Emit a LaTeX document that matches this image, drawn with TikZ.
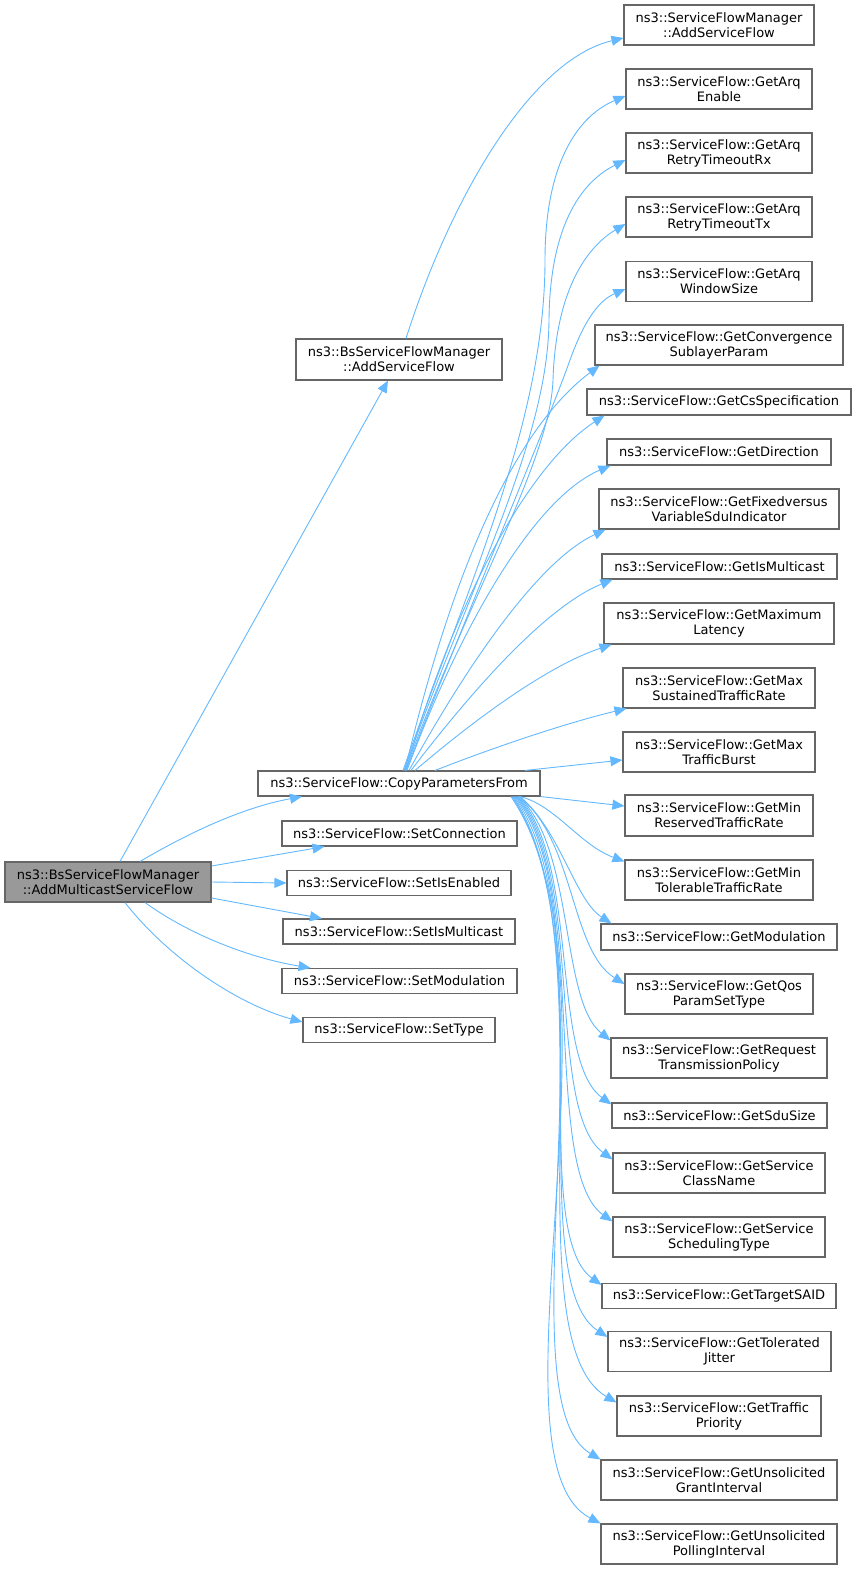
\documentclass[tikz,border=0pt]{standalone}
\usepackage{fontspec}
\setmainfont{DejaVu Sans}
\usetikzlibrary{arrows.meta}
\definecolor{edgeblue}{HTML}{63B8FF}
\definecolor{boxgray}{HTML}{666666}
\definecolor{rootfill}{HTML}{999999}
\tikzset{
  box/.style={draw=boxgray, line width=1.1pt, fill=white, inner sep=0pt, align=center,
    font=\fontsize{13}{15}\selectfont},
  rootbox/.style={box, fill=rootfill},
  edge/.style={draw=edgeblue, line width=0.9pt, -{Triangle[length=12pt,width=10pt]}},
}
\begin{document}
\begin{tikzpicture}[x=1pt,y=-1pt]
\useasboundingbox (0,0) rectangle (856,1569);
% left
\node[rootbox, minimum width=206pt, minimum height=40pt] (root) at (108,882) {ns3::BsServiceFlowManager\\::AddMulticastServiceFlow};
% middle
\node[box, minimum width=206pt, minimum height=41pt] (bsadd) at (399,359.5) {ns3::BsServiceFlowManager\\::AddServiceFlow};
\node[box, minimum width=282pt, minimum height=25pt] (cpf) at (399,783.5) {ns3::ServiceFlow::CopyParametersFrom};
\node[box, minimum width=235pt, minimum height=25pt] (setconn) at (399.5,833.5) {ns3::ServiceFlow::SetConnection};
\node[box, minimum width=224pt, minimum height=25pt] (setisen) at (399,883) {ns3::ServiceFlow::SetIsEnabled};
\node[box, minimum width=232pt, minimum height=25pt] (setismc) at (399,931.5) {ns3::ServiceFlow::SetIsMulticast};
\node[box, minimum width=235pt, minimum height=25pt] (setmod) at (399.5,981) {ns3::ServiceFlow::SetModulation};
\node[box, minimum width=192pt, minimum height=25pt] (settype) at (399,1030) {ns3::ServiceFlow::SetType};
% right
\node[box, minimum width=190pt, minimum height=40pt] (sfmadd) at (719,25) {ns3::ServiceFlowManager\\::AddServiceFlow};
\node[box, minimum width=186pt, minimum height=40pt] (arqen) at (719,89) {ns3::ServiceFlow::GetArq\\Enable};
\node[box, minimum width=186pt, minimum height=40pt] (arqrx) at (719,153) {ns3::ServiceFlow::GetArq\\RetryTimeoutRx};
\node[box, minimum width=186pt, minimum height=40pt] (arqtx) at (719,217) {ns3::ServiceFlow::GetArq\\RetryTimeoutTx};
\node[box, minimum width=186pt, minimum height=40pt] (arqws) at (719,281.5) {ns3::ServiceFlow::GetArq\\WindowSize};
\node[box, minimum width=248pt, minimum height=40pt] (conv) at (719,345) {ns3::ServiceFlow::GetConvergence\\SublayerParam};
\node[box, minimum width=264pt, minimum height=26pt] (csspec) at (719,402) {ns3::ServiceFlow::GetCsSpecification};
\node[box, minimum width=224pt, minimum height=26pt] (dir) at (719,452) {ns3::ServiceFlow::GetDirection};
\node[box, minimum width=240pt, minimum height=40pt] (fixed) at (719,509) {ns3::ServiceFlow::GetFixedversus\\VariableSduIndicator};
\node[box, minimum width=235pt, minimum height=25pt] (ismc) at (719.5,566.5) {ns3::ServiceFlow::GetIsMulticast};
\node[box, minimum width=230pt, minimum height=41pt] (maxlat) at (719,623.5) {ns3::ServiceFlow::GetMaximum\\Latency};
\node[box, minimum width=192pt, minimum height=40pt] (maxsus) at (719,688) {ns3::ServiceFlow::GetMax\\SustainedTrafficRate};
\node[box, minimum width=192pt, minimum height=40pt] (maxburst) at (719,752) {ns3::ServiceFlow::GetMax\\TrafficBurst};
\node[box, minimum width=188pt, minimum height=41pt] (minres) at (719,815.5) {ns3::ServiceFlow::GetMin\\ReservedTrafficRate};
\node[box, minimum width=188pt, minimum height=40pt] (mintol) at (719,880) {ns3::ServiceFlow::GetMin\\TolerableTrafficRate};
\node[box, minimum width=236pt, minimum height=26pt] (mod) at (719,937) {ns3::ServiceFlow::GetModulation};
\node[box, minimum width=188pt, minimum height=40pt] (qos) at (719,994) {ns3::ServiceFlow::GetQos\\ParamSetType};
\node[box, minimum width=216pt, minimum height=40pt] (reqtx) at (719,1058) {ns3::ServiceFlow::GetRequest\\TransmissionPolicy};
\node[box, minimum width=215pt, minimum height=25pt] (sdu) at (719.5,1115.5) {ns3::ServiceFlow::GetSduSize};
\node[box, minimum width=212pt, minimum height=40pt] (sclass) at (719,1173) {ns3::ServiceFlow::GetService\\ClassName};
\node[box, minimum width=212pt, minimum height=40pt] (ssched) at (719,1237) {ns3::ServiceFlow::GetService\\SchedulingType};
\node[box, minimum width=234pt, minimum height=25pt] (said) at (719,1296) {ns3::ServiceFlow::GetTargetSAID};
\node[box, minimum width=223pt, minimum height=40pt] (jitter) at (719.5,1351.5) {ns3::ServiceFlow::GetTolerated\\Jitter};
\node[box, minimum width=204pt, minimum height=40pt] (tprio) at (719,1416) {ns3::ServiceFlow::GetTraffic\\Priority};
\node[box, minimum width=236pt, minimum height=40pt] (ugrant) at (719,1480) {ns3::ServiceFlow::GetUnsolicited\\GrantInterval};
\node[box, minimum width=236pt, minimum height=40pt] (upoll) at (719,1544) {ns3::ServiceFlow::GetUnsolicited\\PollingInterval};
% edges from root
\draw[edge] ([xshift=12pt]root.north) -- ([xshift=-11pt]bsadd.south);
\draw[edge] ([xshift=32pt]root.north) .. controls (185,835) and (240,808) .. ([xshift=-97pt]cpf.south);
\draw[edge] ([yshift=16pt]root.east) -- ([xshift=-75pt]setconn.south);
\draw[edge] (root.east) -- (setisen.west);
\draw[edge] ([yshift=-16pt]root.east) -- ([xshift=-77pt]setismc.north);
\draw[edge] ([xshift=37pt]root.south) .. controls (190,935) and (250,958) .. ([xshift=-89pt]setmod.north);
\draw[edge] ([xshift=17pt]root.south) .. controls (170,960) and (240,1005) .. ([yshift=8pt]settype.west);
% bsadd
\draw[edge] ([xshift=7pt]bsadd.north) .. controls (450,200) and (530,60) .. ([yshift=-13pt]sfmadd.west);
% cpf upward
\draw[edge] ([xshift=4pt]cpf.north) .. controls (470,580) and (545,420) .. (545,260) .. controls (545,160) and (580,115) .. ([yshift=-7pt]arqen.west);
\draw[edge] ([xshift=5pt]cpf.north) .. controls (472,580) and (548,440) .. (549,320) .. controls (550,220) and (585,180) .. ([yshift=-7pt]arqrx.west);
\draw[edge] ([xshift=6pt]cpf.north) .. controls (474,585) and (550,460) .. (553,380) .. controls (556,285) and (590,245) .. ([yshift=-7pt]arqtx.west);
\draw[edge] ([xshift=7pt]cpf.north) .. controls (476,590) and (545,430) .. (570,360) .. controls (585,318) and (600,300) .. ([yshift=-7.5pt]arqws.west);
\draw[edge] ([xshift=6pt]cpf.north) .. controls (440,620) and (500,440) .. ([xshift=5pt]conv.south west);
\draw[edge] ([xshift=7pt]cpf.north) .. controls (445,630) and (520,470) .. ([xshift=18pt]csspec.south west);
\draw[edge] ([xshift=8pt]cpf.north) .. controls (455,640) and (530,500) .. ([xshift=4pt]dir.south west);
\draw[edge] ([xshift=10pt]cpf.north) .. controls (470,660) and (540,560) .. ([xshift=7pt]fixed.south west);
\draw[edge] ([xshift=12pt]cpf.north) .. controls (480,680) and (550,605) .. ([xshift=11pt]ismc.south west);
\draw[edge] ([xshift=16pt]cpf.north) .. controls (480,715) and (550,665) .. ([xshift=8pt]maxlat.south west);
\draw[edge] ([xshift=36pt]cpf.north) .. controls (500,745) and (570,722) .. ([xshift=4pt]maxsus.south west);
\draw[edge] ([xshift=126pt]cpf.north) -- ([yshift=-8pt]maxburst.west);
% cpf downward
\draw[edge] (cpf.south east) -- ([yshift=9.5pt]minres.west);
\draw[edge] ([xshift=121pt]cpf.south) .. controls (555,805) and (580,845) .. ([yshift=-2pt]mintol.north west);
\draw[edge] ([xshift=121pt]cpf.south) .. controls (560,830) and (575,900) .. ([xshift=11pt]mod.north west);
\draw[edge] ([xshift=120pt]cpf.south) .. controls (575,840) and (570,950) .. ([yshift=10pt]qos.west);
\draw[edge] ([xshift=120pt]cpf.south) .. controls (575,850) and (560,1000) .. ([yshift=-3pt]reqtx.north west);
\draw[edge] ([xshift=119pt]cpf.south) .. controls (580,860) and (550,1060) .. ([yshift=-2pt]sdu.north west);
\draw[edge] ([xshift=118pt]cpf.south) .. controls (585,870) and (545,1110) .. ([yshift=-7pt]sclass.north west);
\draw[edge] ([xshift=117pt]cpf.south) .. controls (590,880) and (540,1170) .. ([yshift=-5pt]ssched.north west);
\draw[edge] ([xshift=116pt]cpf.south) .. controls (600,900) and (525,1230) .. ([yshift=-2pt]said.north west);
\draw[edge] ([xshift=115pt]cpf.south) .. controls (605,920) and (520,1280) .. ([yshift=-6pt]jitter.north west);
\draw[edge] ([xshift=114pt]cpf.south) .. controls (610,940) and (510,1340) .. ([yshift=-7pt]tprio.north west);
\draw[edge] ([xshift=113pt]cpf.south) .. controls (620,960) and (500,1400) .. (ugrant.north west);
\draw[edge] ([xshift=112pt]cpf.south) .. controls (635,980) and (480,1460) .. (upoll.north west);
\end{tikzpicture}
\end{document}
